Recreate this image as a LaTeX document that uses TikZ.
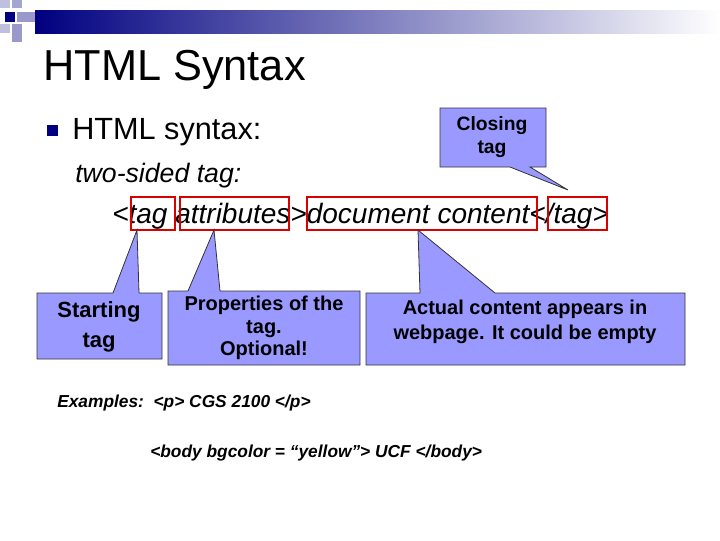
\documentclass[tikz,border=0pt]{standalone}
\usepackage{fontspec}
\setmainfont{Liberation Sans}
\begin{document}
\begin{tikzpicture}[x=0.75pt,y=-0.75pt]
	\tikzset{every node/.style={inner sep=0pt},
		callout/.style={fill=lavender,draw=black!80,line width=0.6pt},
		redbox/.style={draw=red!85!black,line width=1.6pt},
		calltext/.style={font=\bfseries\fontsize{15}{17}\selectfont,align=center}}
	\definecolor{lavender}{RGB}{153,153,255}
	\definecolor{navy}{RGB}{0,0,128}
	\useasboundingbox (0,0) rectangle (720,540);
	% header bar and squares
	\shade [left color=navy,right color=white] (35,10) rectangle (720,33);
	\fill [navy!25] (0,0) rectangle (10,8);
	\fill [navy!35] (12,0) rectangle (22,8);
	\fill [navy] (5,12) rectangle (15,22);
	\fill [navy!40] (17,12) rectangle (35,22);
	\fill [navy!25] (0,24) rectangle (10,33);
	\fill [navy!40] (12,24) rectangle (22,42);
	% title and bullet
	\node [anchor=west,font=\fontsize{32.5}{38}\selectfont] (title) at (43,70) {HTML Syntax};
	\fill [navy] (47,125) rectangle (58,136);
	\node [anchor=west,font=\fontsize{23}{27}\selectfont] (syntax) at (72,132) {HTML syntax:};
	\node [anchor=west,font=\itshape\fontsize{20}{24}\selectfont] (twosided) at (75,176) {two-sided tag:};
	\node [anchor=west,font=\itshape\fontsize{21}{25}\selectfont] (tagline) at (112,216) {<tag attributes>document content</tag>};
	% red boxes
	\draw [redbox] (131,197) rectangle (175,230);
	\draw [redbox] (180,197) rectangle (289,230);
	\draw [redbox] (307,197) rectangle (537,230);
	\draw [redbox] (548,197) rectangle (607,230);
	% callouts
	\draw [callout] (440,108) -- (546,108) -- (546,167) -- (530,167) -- (568,190) -- (510,167) -- (440,167) -- cycle;
	\node [calltext,font=\bfseries\fontsize{14.5}{17}\selectfont] (closing) at (492,137) {Closing\\tag};
	\draw [callout] (37,293) -- (113,293) -- (137,230) -- (139,293) -- (162,293) -- (162,359) -- (37,359) -- cycle;
	\node [calltext,font=\bfseries\fontsize{16.5}{22}\selectfont] (starting) at (99,327) {Starting\\tag};
	\draw [callout] (168,291) -- (188,291) -- (214,230) -- (220,291) -- (360,291) -- (360,365) -- (168,365) -- cycle;
	\node [calltext] (props) at (264,328) {Properties of the\\tag.\\Optional!};
	\draw [callout] (366,293) -- (420,293) -- (418,230) -- (495,293) -- (685,293) -- (685,365) -- (366,365) -- cycle;
	\node [calltext,font=\bfseries\fontsize{15}{19}\selectfont] (actual) at (525,322) {Actual content appears in\\webpage. It could be empty};
	% examples
	\node [anchor=west,font=\bfseries\itshape\fontsize{13}{15}\selectfont] (ex1) at (57,403) {Examples:\ \ <p> CGS 2100 </p>};
	\node [anchor=west,font=\bfseries\itshape\fontsize{13}{15}\selectfont] (ex2) at (150,453) {<body bgcolor = “yellow”> UCF </body>};
\end{tikzpicture}
\end{document}
